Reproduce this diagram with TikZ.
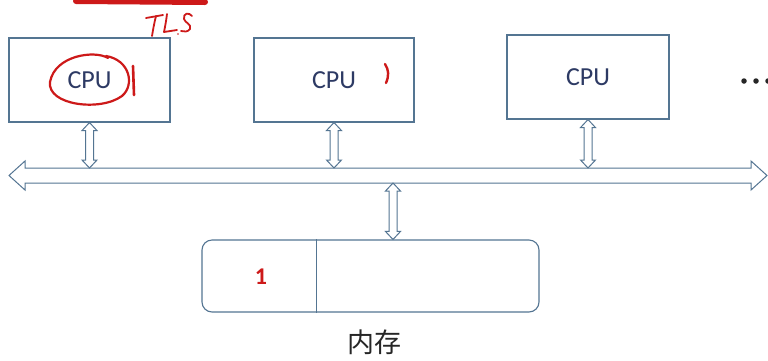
\documentclass[tikz,border=0pt]{standalone}
\usepackage{fontspec}
\setmainfont{Carlito}
\newfontfamily\cjk{Noto Sans CJK SC}
\usetikzlibrary{calc}
\definecolor{boxc}{RGB}{84,117,146}
\definecolor{txtc}{RGB}{45,58,100}
\definecolor{pen}{RGB}{205,25,25}
\newcommand\dblv[2]{%
  \draw[hollow] ($(#1)+(-4,8)$) -- ($(#1)+(-7.5,8)$) -- (#1) -- ($(#1)+(7.5,8)$) -- ($(#1)+(4,8)$)
   -- ($(#2)+(4,-8)$) -- ($(#2)+(7.5,-8)$) -- (#2) -- ($(#2)+(-7.5,-8)$) -- ($(#2)+(-4,-8)$) -- cycle;}
\begin{document}
\begin{tikzpicture}[x=1pt,y=-1pt,
  cpubox/.style={draw=boxc, line width=1.1pt, minimum width=161pt, minimum height=84pt,
    inner sep=0pt, text=txtc, font=\fontsize{26}{30}\selectfont},
  hollow/.style={draw=boxc, line width=1pt, fill=white, line join=miter},
  membox/.style={draw=boxc, line width=1.1pt, rounded corners=10pt, minimum width=337pt,
    minimum height=72pt, inner sep=0pt},
  redpen/.style={draw=pen, line width=2.2pt, line cap=round, line join=round},
  dot/.style={circle, fill=black!85, inner sep=0pt, minimum size=5.5pt}]
\useasboundingbox (0,0) rectangle (768,360);
\fill[white] (0,0) rectangle (768,360);

% CPU boxes
\node[cpubox] (cpu1) at (89.5,80) {CPU};
\node[cpubox, minimum width=160pt] (cpu2) at (334,80) {CPU};
\node[cpubox, minimum width=162pt] (cpu3) at (588,77) {CPU};
\node[dot] (d1) at (744,81) {};
\node[dot] (d2) at (756,81) {};
\node[dot] (d3) at (768,81) {};

% bus
\coordinate (busL) at (9,175.5);
\coordinate (busR) at (767,175.5);
\draw[hollow] (busL) -- ($(busL)+(16,-14.5)$) -- ($(busL)+(16,-7.5)$) -- ($(busR)+(-16,-7.5)$)
  -- ($(busR)+(-16,-14.5)$) -- (busR) -- ($(busR)+(-16,14.5)$) -- ($(busR)+(-16,7.5)$)
  -- ($(busL)+(16,7.5)$) -- ($(busL)+(16,14.5)$) -- cycle;
\coordinate (bustop) at ($(busL)+(16,-7.5)$);
\coordinate (busbot) at ($(busL)+(16,7.5)$);

% memory
\node[membox] (mem) at (370.5,276) {};
\draw[draw=boxc, line width=1.1pt] ($(mem.north west)+(115,0)$) coordinate (divt) -- (divt |- mem.south);
\node[text=pen, font=\bfseries\fontsize{24}{28}\selectfont] (one) at (261,277) {1};
\node[font=\cjk\fontsize{27}{30}\selectfont, text=black!85] (memlbl) at (374,342) {内存};

% connectors
\coordinate (b1) at (cpu1.south |- bustop);
\coordinate (b2) at (cpu2.south |- bustop);
\coordinate (b3) at (cpu3.south |- bustop);
\coordinate (mtop) at ($(mem.north)+(22.5,0)$);
\coordinate (b4) at (mtop |- busbot);
\dblv{cpu1.south}{b1}
\dblv{cpu2.south}{b2}
\dblv{cpu3.south}{b3}
\dblv{b4}{mtop}

% red handwritten annotations
\draw[pen, line width=6pt, line cap=round] (76,1) -- (205,2);
% "TLS" handwritten
\draw[redpen, line width=1.8pt] (146,18) -- (163,15);
\draw[redpen, line width=1.8pt] (156,16) .. controls (154,24) and (153,30) .. (152,36);
\draw[redpen, line width=1.8pt] (167,14) .. controls (166,22) and (165,27) .. (164,32) -- (177,30);
\draw[redpen, line width=1.8pt] (192,16) .. controls (189,12) and (183,13) .. (184,19)
  .. controls (185,23) and (192,24) .. (190,29) .. controls (188,32) and (184,32) .. (181,31);
\fill[pen] (178,34) circle (0.9pt);
% circle round CPU and marks
\draw[redpen] (108,58) .. controls (95,50) and (55,55) .. (50,82)
  .. controls (47,105) and (100,112) .. (122,96)
  .. controls (135,85) and (130,60) .. (106,56);
\draw[redpen, line width=2.6pt] (133,66) -- (134,95);
\draw[redpen, line width=2.4pt] (385,64) .. controls (389,70) and (389,76) .. (386,83);
\end{tikzpicture}
\end{document}
